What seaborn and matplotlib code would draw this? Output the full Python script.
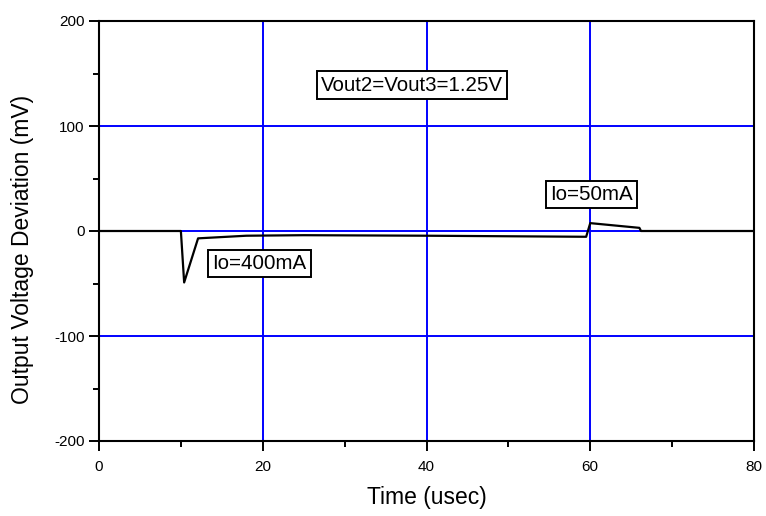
import numpy as np
import pandas as pd
import matplotlib
matplotlib.use('Agg')
import matplotlib.pyplot as plt
import seaborn as sns
from matplotlib.ticker import MultipleLocator

# ============================================================
# DATA
# ============================================================

time_us = [0, 10.0, 10.4, 12.1, 18, 25, 40, 59.5, 60.0, 66.0, 66.2, 80]
dev_mv = [0, 0, -49, -7, -4.5, -4, -4.5, -5.5, 7.5, 3, 0, 0]

notes = ['Vout2=Vout3=1.25V', 'Io=400mA', 'Io=50mA']
note_x = [38.2, 19.6, 60.2]
note_y = [139, -31, 35]

df = pd.DataFrame({'t': time_us, 'v': dev_mv})

# ============================================================
# PLOT
# ============================================================

sns.set_style('white')
plt.rcParams['font.family'] = ['Liberation Sans', 'DejaVu Sans']
plt.rcParams['axes.unicode_minus'] = False
for key in ['text.color', 'axes.labelcolor', 'xtick.color', 'ytick.color']:
    plt.rcParams[key] = 'black'

fig = plt.figure(figsize=(7.66, 5.16), dpi=100)
ax = fig.add_axes([99 / 766, 1 - 441 / 516, 655 / 766, 420 / 516])

sns.lineplot(data=df, x='t', y='v', ax=ax, color='black', linewidth=1.6)

ax.set_xlim(0, 80)
ax.set_ylim(-200, 200)
ax.xaxis.set_major_locator(MultipleLocator(20))
ax.xaxis.set_minor_locator(MultipleLocator(10))
ax.yaxis.set_major_locator(MultipleLocator(100))
ax.yaxis.set_minor_locator(MultipleLocator(50))
ax.grid(True, which='major', color='#0000ff', linewidth=1.4)
ax.set_axisbelow(True)

ax.tick_params(axis='x', which='major', pad=7)
ax.tick_params(which='major', direction='out', length=7, width=1.4,
               labelsize=11, left=True, bottom=True, color='black')
ax.tick_params(which='minor', direction='out', length=4, width=1.4,
               left=True, bottom=True, color='black')
for s in ax.spines.values():
    s.set_color('black')
    s.set_linewidth(1.5)

ax.set_xlabel('Time (usec)', fontsize=16.5, labelpad=8)
ax.set_ylabel('Output Voltage Deviation (mV)', fontsize=16.5)
ax.yaxis.set_label_coords(-0.099, 0.455)

for txt, x, y in zip(notes, note_x, note_y):
    ax.text(x, y, txt, fontsize=14.8, ha='center', va='center',
            bbox=dict(boxstyle='square,pad=0.2', facecolor='white',
                      edgecolor='black', linewidth=1.4))

plt.savefig('out.png', dpi=100)
